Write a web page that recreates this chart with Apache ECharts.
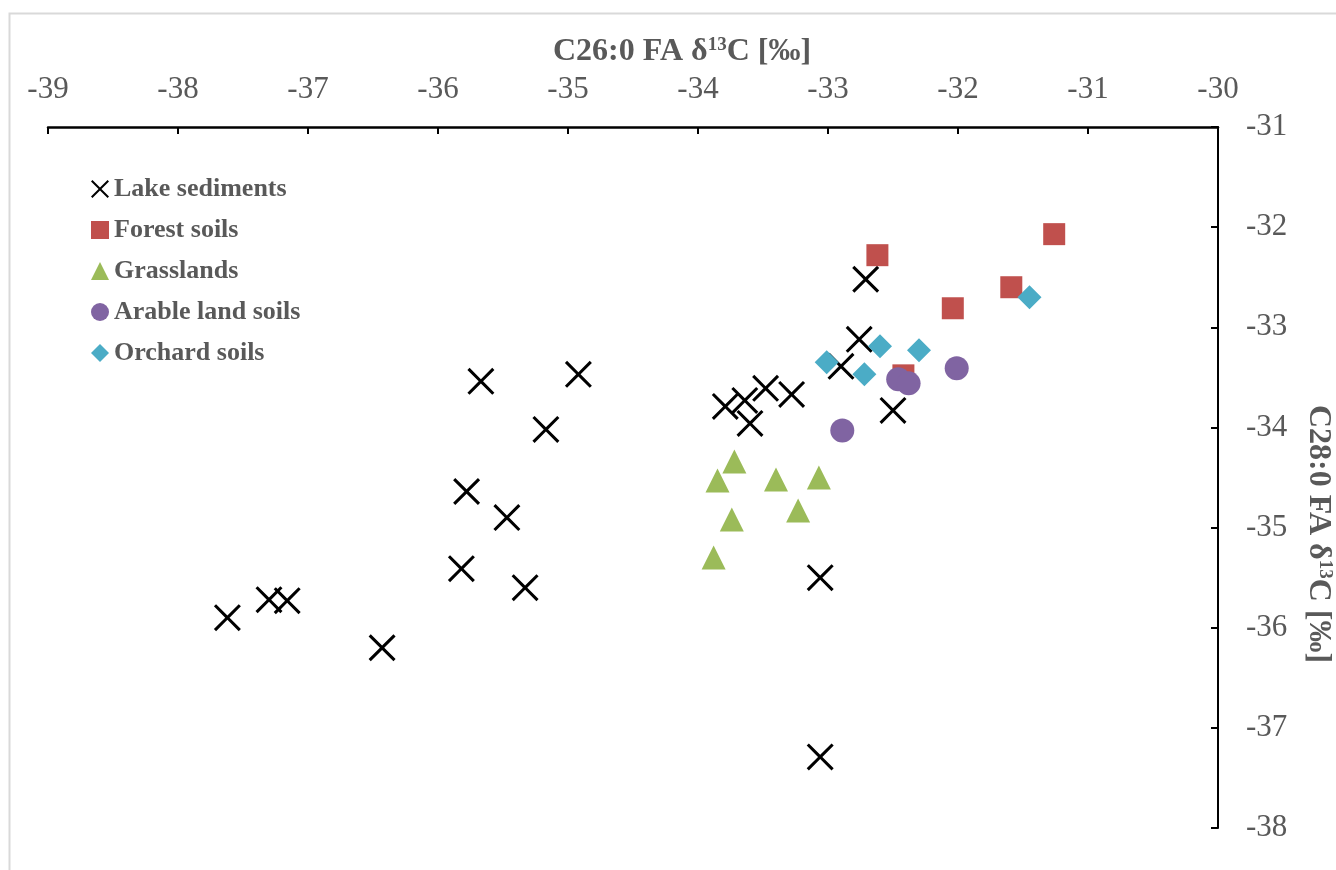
<!DOCTYPE html>
<html>
<head>
<meta charset="utf-8">
<script src="https://cdn.jsdelivr.net/npm/echarts@6/dist/echarts.min.js"></script>
<style>html,body{margin:0;padding:0;background:#fff;}#c{width:1336px;height:870px;}</style>
</head>
<body>
<div id="c"></div>
<script>
// Data: [C26:0 FA δ13C, C28:0 FA δ13C]
const lakeSediments = [
  [-32.71, -32.52], [-32.76, -33.12], [-32.90, -33.39], [-32.50, -33.83],
  [-34.92, -33.47], [-35.67, -33.54], [-35.17, -34.02],
  [-33.79, -33.79], [-33.64, -33.73], [-33.48, -33.61], [-33.28, -33.67], [-33.60, -33.96],
  [-35.78, -34.64], [-35.47, -34.90], [-35.82, -35.41], [-35.33, -35.60],
  [-33.06, -35.50], [-36.43, -36.20], [-37.62, -35.90], [-37.30, -35.72],
  [-37.16, -35.73], [-33.06, -37.29]
];
const forestSoils = [
  [-32.62, -32.28], [-31.26, -32.07], [-32.04, -32.81], [-31.59, -32.60], [-32.42, -33.48]
];
const grasslands = [
  [-33.72, -34.34], [-33.85, -34.53], [-33.40, -34.52], [-33.07, -34.50],
  [-33.23, -34.83], [-33.74, -34.92], [-33.88, -35.30]
];
const arableLandSoils = [
  [-32.01, -33.41], [-32.46, -33.52], [-32.38, -33.56], [-32.89, -34.03]
];
const orchardSoils = [
  [-31.45, -32.70], [-33.01, -33.35], [-32.60, -33.19], [-32.30, -33.23], [-32.72, -33.47]
];
const seriesNames = ['Lake sediments', 'Forest soils', 'Grasslands', 'Arable land soils', 'Orchard soils'];
const xTickMin = -39, xTickMax = -30;
const yTickMin = -38, yTickMax = -31;

const FONT = '"Liberation Serif", "Times New Roman", serif';
const GRAY = '#595959';
const crossPath = 'path://M0,8L8,0L50,42L92,0L100,8L58,50L100,92L92,100L50,58L8,100L0,92L42,50Z';

const titleRich = {
  a: {fontFamily: FONT, fontWeight: 'bold', fontSize: 32, fill: GRAY},
  s: {fontFamily: FONT, fontWeight: 'bold', fontSize: 19, fill: GRAY, verticalAlign: 'top', padding: [0,0,10,0]}
};

const chart = echarts.init(document.getElementById('c'), null, {renderer: 'canvas'});
const option = {
  animation: false,
  backgroundColor: '#fff',
  grid: {left: 48, right: 118, top: 127, bottom: 42, containLabel: false},
  legend: {
    orient: 'vertical',
    left: 86, top: 171,
    itemWidth: 18, itemHeight: 18, itemGap: 15,
    textStyle: {fontFamily: FONT, fontWeight: 'bold', fontSize: 26, color: GRAY},
    data: [
      {name: seriesNames[0], icon: crossPath},
      {name: seriesNames[1], icon: 'rect'},
      {name: seriesNames[2], icon: 'triangle'},
      {name: seriesNames[3], icon: 'circle'},
      {name: seriesNames[4], icon: 'diamond'}
    ]
  },
  xAxis: {
    type: 'value', position: 'top', min: xTickMin, max: xTickMax, interval: 1,
    axisLine: {show: true, onZero: false, lineStyle: {color: '#000', width: 2.5}},
    axisTick: {show: true, inside: true, length: 7, lineStyle: {color: '#000', width: 2}},
    axisLabel: {fontFamily: FONT, fontSize: 31, color: GRAY, margin: 22},
    splitLine: {show: false}
  },
  yAxis: {
    type: 'value', position: 'right', min: yTickMin, max: yTickMax, interval: 1,
    axisLine: {show: true, onZero: false, lineStyle: {color: '#000', width: 2}},
    axisTick: {show: true, inside: true, length: 7, lineStyle: {color: '#000', width: 2}},
    axisLabel: {fontFamily: FONT, fontSize: 31, color: GRAY, margin: 28},
    splitLine: {show: false}
  },
  graphic: [
    {type: 'rect', left: 7, top: 11, z: -10, silent: true,
     shape: {width: 1345, height: 880}, style: {fill: 'none', stroke: '#D9D9D9', lineWidth: 2}},
    {type: 'text', left: 553, top: 36, silent: true,
     style: {text: '{a|C26:0 FA δ}{s|13}{a|C [‰]}', rich: titleRich}},
    {type: 'text', x: 1334, y: 405, rotation: -Math.PI / 2, silent: true,
     style: {text: '{a|C28:0 FA δ}{s|13}{a|C [‰]}', rich: titleRich}}
  ],
  series: [
    {name: seriesNames[0], type: 'scatter', data: lakeSediments, symbol: crossPath, symbolSize: 27,
     itemStyle: {color: '#000', opacity: 1}},
    {name: seriesNames[1], type: 'scatter', data: forestSoils, symbol: 'rect', symbolSize: 22,
     itemStyle: {color: '#C0504D', opacity: 1}},
    {name: seriesNames[2], type: 'scatter', data: grasslands, symbol: 'triangle', symbolSize: [24, 24],
     itemStyle: {color: '#9BBB59', opacity: 1}},
    {name: seriesNames[3], type: 'scatter', data: arableLandSoils, symbol: 'circle', symbolSize: 24,
     itemStyle: {color: '#8064A2', opacity: 1}},
    {name: seriesNames[4], type: 'scatter', data: orchardSoils, symbol: 'diamond', symbolSize: 24,
     itemStyle: {color: '#4BACC6', opacity: 1}}
  ]
};
chart.setOption(option);
</script>
</body>
</html>
